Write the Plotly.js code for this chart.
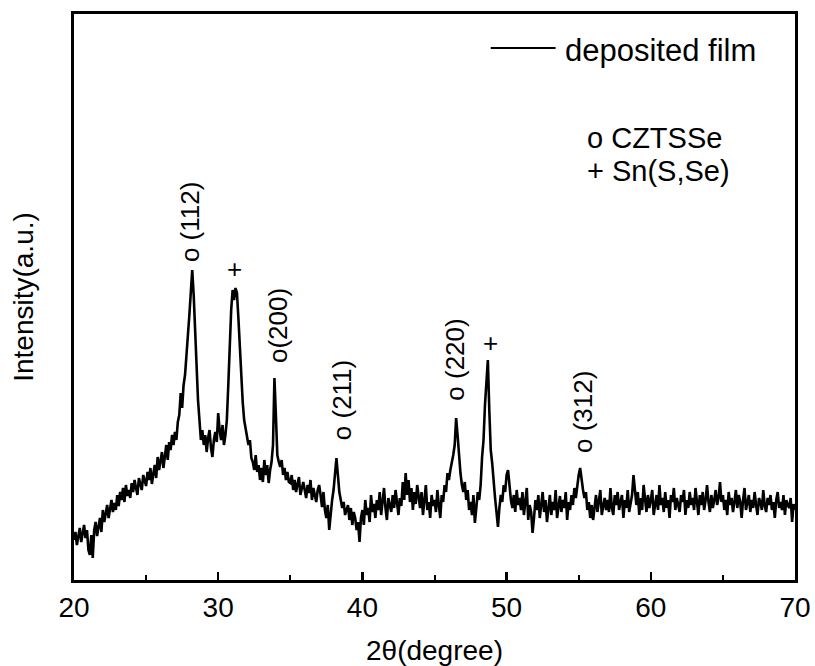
<!DOCTYPE html>
<html>
<head>
<meta charset="utf-8">
<script src="https://cdn.plot.ly/plotly-3.0.1.min.js"></script>
<style>html,body{margin:0;padding:0;background:#fff;}</style>
</head>
<body>
<div id="chart" style="width:815px;height:666px;"></div>
<script>
// Scan grid (2θ, degrees)
const twoThetaStart = 20;
const twoThetaStep = 0.1;

// Intensity (a.u.), one value per 0.1°, 20.0 → 70.0
const intensity = [
  40, 48, 35, 45, 52, 38, 47, 55, 42, 50,      // 20
  30, 25, 45, 22, 50, 58, 44, 55, 62, 48,      // 21
  70, 58, 66, 75, 62, 72, 80, 68, 77, 70,      // 22
  85, 74, 88, 80, 92, 78, 95, 84, 90, 82,      // 23
  97, 88, 100, 92, 85, 102, 95, 90, 105, 98,   // 24
  94, 108, 100, 112, 96, 106, 115, 102, 123, 110, // 25
  118, 128, 112, 125, 135, 120, 138, 130, 145, 135, // 26
  148, 140, 158, 165, 187, 172, 195, 205, 230, 245, // 27
  265, 292, 310, 285, 247, 215, 180, 160, 140, 150, // 28
  135, 145, 128, 142, 150, 132, 123, 140, 148, 138, // 29
  167, 150, 140, 155, 135, 145, 160, 195, 235, 270, // 30
  290, 280, 292, 287, 262, 230, 197, 178, 160, 152, // 31
  147, 135, 140, 122, 118, 110, 125, 108, 115, 100, // 32
  112, 98, 120, 105, 115, 97, 110, 118, 135, 202,   // 33
  165, 125, 118, 113, 120, 105, 112, 100, 108, 98,  // 34
  97, 105, 90, 100, 88, 95, 103, 85, 92, 98,        // 35
  90, 82, 95, 87, 100, 80, 92, 85, 78, 90,          // 36
  95, 85, 73, 88, 70, 62, 75, 50, 68, 80,           // 37
  90, 105, 122, 105, 88, 80, 72, 78, 65, 70,        // 38
  75, 60, 72, 55, 68, 62, 50, 58, 38, 62,           // 39
  70, 55, 80, 65, 72, 58, 85, 68, 76, 62,           // 40
  80, 70, 88, 65, 78, 92, 72, 60, 82, 75,           // 41
  68, 85, 72, 90, 78, 65, 82, 74, 98, 80,           // 42
  107, 85, 100, 78, 92, 70, 88, 76, 95, 82,         // 43
  72, 88, 65, 80, 95, 70, 78, 62, 85, 74,           // 44
  80, 68, 90, 75, 62, 85, 78, 95, 88, 107,          // 45
  100, 110, 117, 125, 135, 162, 145, 120, 107, 95,  // 46
  88, 98, 80, 90, 70, 78, 65, 85, 57, 72,           // 47
  88, 80, 95, 123, 140, 175, 205, 220, 170, 130,    // 48
  117, 95, 82, 68, 53, 72, 85, 78, 95, 88,          // 49
  105, 110, 92, 80, 72, 85, 68, 90, 75, 82,         // 50
  70, 88, 65, 78, 92, 60, 75, 68, 47, 62,           // 51
  80, 70, 85, 62, 75, 88, 68, 80, 58, 72,           // 52
  85, 65, 78, 70, 90, 62, 75, 84, 68, 80,           // 53
  72, 88, 60, 78, 70, 85, 75, 92, 82, 95,           // 54
  105, 112, 98, 90, 82, 88, 70, 78, 62, 75,         // 55
  60, 72, 85, 68, 78, 90, 65, 75, 82, 70,           // 56
  80, 68, 92, 72, 65, 85, 75, 88, 70, 78,           // 57
  85, 62, 80, 72, 90, 68, 78, 85, 105, 92,          // 58
  75, 88, 65, 82, 70, 95, 78, 68, 85, 72,           // 59
  80, 90, 65, 78, 85, 70, 95, 75, 82, 68,           // 60
  88, 72, 80, 62, 85, 78, 92, 70, 82, 75,           // 61
  68, 85, 78, 90, 65, 80, 72, 88, 75, 82,           // 62
  70, 92, 78, 65, 85, 75, 88, 70, 80, 95,           // 63
  78, 68, 85, 72, 80, 90, 75, 82, 98, 78,           // 64
  85, 70, 80, 65, 88, 75, 82, 68, 78, 90,           // 65
  72, 85, 78, 62, 80, 92, 70, 76, 85, 68,           // 66
  80, 72, 88, 75, 65, 82, 78, 70, 90, 74,           // 67
  68, 82, 75, 85, 70, 78, 62, 80, 88, 72,           // 68
  78, 70, 85, 65, 80, 75, 72, 82, 58, 76,           // 69
  70                                                // 70
];

// Peak labels
const peakLabels = ["o (112)", "+", "o(200)", "o (211)", "o (220)", "+", "o (312)"];
const peakLabelX = [28.05, 31.1, 34.15, 38.6, 46.4, 48.85, 55.3];
const peakLabelY = [358, 311, 254, 180, 220, 237, 168];
const peakLabelAngle = [-90, 0, -90, -90, -90, 0, -90];

const seriesName = "deposited film";
const phaseKey = ["o CZTSSe", "+ Sn(S,Se)"];

const xTickVals = [20, 30, 40, 50, 60, 70];
const xTickText = ["20", "30", "40", "50", "60", "70"];

const FONT = "Liberation Sans, Arial, sans-serif";

const trace = {
  type: "scatter",
  mode: "lines",
  name: seriesName,
  x0: twoThetaStart,
  dx: twoThetaStep,
  y: intensity,
  line: {color: "#000", width: 2.6},
  showlegend: false,
  hoverinfo: "x+y"
};

const annotations = peakLabels.map((t, i) => ({
  x: peakLabelX[i], y: peakLabelY[i], xref: "x", yref: "y",
  text: t, showarrow: false, textangle: peakLabelAngle[i],
  xanchor: "center", yanchor: "middle",
  font: {family: FONT, size: 26, color: "#000"}
}));

annotations.push({
  xref: "paper", yref: "paper", x: 0.678, y: 0.936,
  text: seriesName, showarrow: false, xanchor: "left", yanchor: "middle",
  font: {family: FONT, size: 31, color: "#000"}
});
annotations.push({
  xref: "paper", yref: "paper", x: 0.709, y: 0.781,
  text: phaseKey[0], showarrow: false, xanchor: "left", yanchor: "middle",
  font: {family: FONT, size: 29, color: "#000"}
});
annotations.push({
  xref: "paper", yref: "paper", x: 0.709, y: 0.722,
  text: phaseKey[1], showarrow: false, xanchor: "left", yanchor: "middle",
  font: {family: FONT, size: 29, color: "#000"}
});

const layout = {
  width: 815, height: 666,
  margin: {l: 74, r: 20, t: 14, b: 86},
  paper_bgcolor: "#fff", plot_bgcolor: "#fff",
  font: {family: FONT, color: "#000"},
  xaxis: {
    range: [20, 70],
    tickvals: xTickVals, ticktext: xTickText,
    ticks: "inside", ticklen: 8, tickwidth: 2.5, tickcolor: "#000",
    minor: {ticks: "inside", ticklen: 5, tickwidth: 2, dtick: 5, tick0: 20, tickcolor: "#000"},
    showline: true, linewidth: 3, linecolor: "#000", mirror: true,
    showgrid: false, zeroline: false,
    tickfont: {family: FONT, size: 28, color: "#000"},
    title: {text: "2θ(degree)", font: {family: FONT, size: 28, color: "#000"}, standoff: 22}
  },
  yaxis: {
    range: [0, 566],
    showticklabels: false, ticks: "",
    showline: true, linewidth: 3, linecolor: "#000", mirror: true,
    showgrid: false, zeroline: false,
    title: {text: "Intensity(a.u.)", font: {family: FONT, size: 28, color: "#000"}, standoff: 30}
  },
  shapes: [{
    type: "line", xref: "paper", yref: "paper",
    x0: 0.578, x1: 0.668, y0: 0.940, y1: 0.940,
    line: {color: "#000", width: 2}
  }],
  annotations: annotations,
  showlegend: false
};

Plotly.newPlot("chart", [trace], layout, {displayModeBar: false, staticPlot: true});
</script>
</body>
</html>
